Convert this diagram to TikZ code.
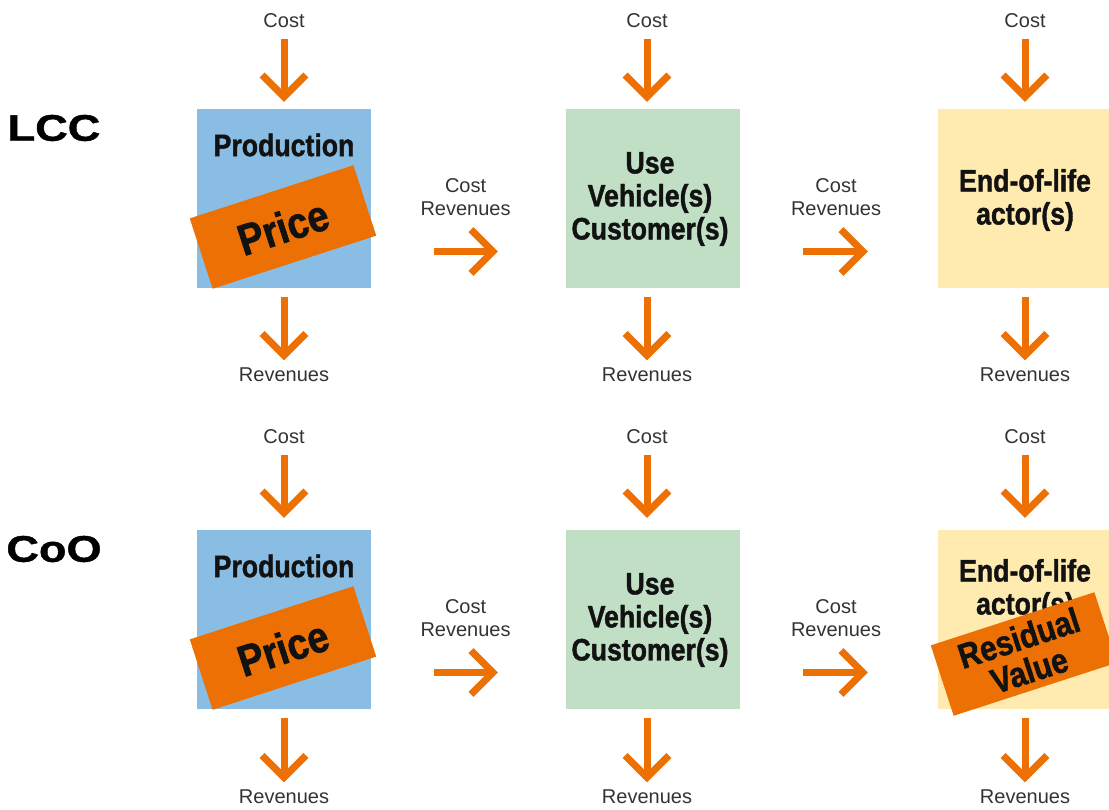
\documentclass[tikz,border=0pt]{standalone}
\usepackage{fontspec}
\setmainfont{Liberation Sans}
\newfontfamily\condfont[FakeStretch=0.86,BoldFeatures={FakeBold=1.3}]{Liberation Sans}
\newfontfamily\widefont[FakeStretch=1.22,BoldFeatures={FakeBold=1.2}]{Liberation Sans}
\usetikzlibrary{arrows.meta}
\definecolor{floworange}{HTML}{EC7004}
\definecolor{prodcol}{HTML}{89BDE4}
\definecolor{usecol}{HTML}{C0DFC4}
\definecolor{eolcol}{HTML}{FFEBB0}
\definecolor{textgray}{HTML}{333333}

\begin{document}
\begin{tikzpicture}[x=1pt,y=-1pt,
		box node/.style={rectangle,minimum width=174pt,minimum height=179pt,inner sep=0pt},
		title node/.style={font=\condfont\bfseries\fontsize{31}{33}\selectfont,
			align=center,text=black!93,inner sep=0pt},
		tag node/.style={rectangle,fill=floworange,minimum width=172pt,minimum height=74pt,
			rotate=18,align=center,inner sep=0pt,text=black!93},
		small node/.style={font=\fontsize{20}{23}\selectfont,text=textgray,inner sep=0pt,align=center},
		flow/.style={draw=floworange,line width=7pt,-{Straight Barb[angle=90:31pt,sharp]}}]
	
	\useasboundingbox (0,0) rectangle (1109,809);
	
	\foreach \r/\yb/\yc/\yr/\ye/\gap/\lab in {1/109/21/375/91/7/LCC,2/530/437/797/60/12/CoO} {
		\node[inner sep=0pt,font=\widefont\bfseries\fontsize{37}{40}\selectfont] (row\r) at (54,\yb+19) {\lab};
		
		% boxes
		\node[box node,fill=prodcol] (prod\r) at (284,\yb+89.5) {};
		\node[box node,fill=usecol] (use\r) at (653,\yb+89.5) {};
		\node[box node,fill=eolcol] (eol\r) at (1025,\yb+89.5) {};
		\node[title node] (prodt\r) at (284,\yb+36) {Production};
		\node[title node] (uset\r) at (650,\yb+90) {Use\\Vehicle(s)\\Customer(s)};
		\node[title node] (eolt\r) at (1025,\yb+\ye) {End-of-life\\actor(s)};
		\node[tag node,font=\condfont\bfseries\fontsize{44}{44}\selectfont] (price\r) at (283,\yb+118) {Price};
		
		% cost in, revenues out
		\foreach \n/\x in {prod/284,use/647,eol/1025} {
			\node[small node] (cost\n\r) at (\x,\yc) {Cost};
			\node[small node] (rev\n\r) at (\x,\yr) {Revenues};
			\draw[flow,shorten <=11pt,shorten >=\gap pt] (cost\n\r) -- (cost\n\r |- \n\r.north);
			\draw[flow,shorten <=9pt,shorten >=7.5pt] (rev\n\r |- \n\r.south) -- (rev\n\r);
		}
		
		% between the actors
		\draw[flow,shorten <=63pt,shorten >=68pt] ([yshift=-53pt]prod\r.east) --
			node[small node,above=32pt,pos=0.485] (flowa\r) {Cost\\Revenues} ([yshift=-53pt]use\r.west);
		\draw[flow,shorten <=63pt,shorten >=70pt] ([yshift=-53pt]use\r.east) --
			node[small node,above=32pt,pos=0.485] (flowb\r) {Cost\\Revenues} ([yshift=-53pt]eol\r.west);
	}
	
	\node[tag node,font=\condfont\bfseries\fontsize{35}{34}\selectfont] (resid) at (1024,654) {Residual\\Value};
\end{tikzpicture}
\end{document}
